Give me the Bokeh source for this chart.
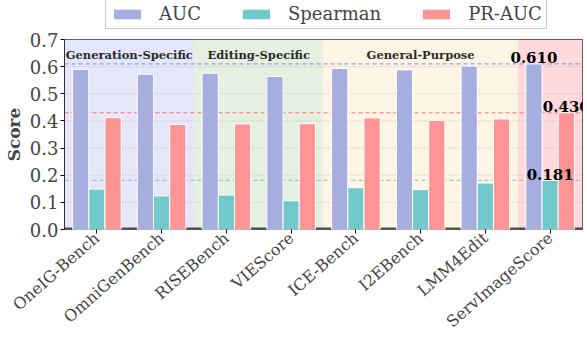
import numpy as np
from bokeh.plotting import figure
from bokeh.layouts import column
from bokeh.models import (ColumnDataSource, Legend, LegendItem,
                          FixedTicker, PrintfTickFormatter)
from bokeh.core.properties import value
from bokeh.embed import file_html
from bokeh.resources import INLINE

# ---------------- data ----------------
benchmarks = ["OneIG-Bench", "OmniGenBench", "RISEBench", "VIEScore",
              "ICE-Bench", "I2EBench", "LMM4Edit", "ServImageScore"]
auc = [0.590, 0.572, 0.576, 0.564, 0.593, 0.588, 0.602, 0.610]
spearman = [0.149, 0.124, 0.127, 0.106, 0.154, 0.147, 0.171, 0.181]
pr_auc = [0.412, 0.387, 0.389, 0.390, 0.411, 0.402, 0.407, 0.430]
series_names = ["AUC", "Spearman", "PR-AUC"]
y_ticks = [0.0, 0.1, 0.2, 0.3, 0.4, 0.5, 0.6, 0.7]

region_names = ["Generation-Specific", "Editing-Specific", "General-Purpose", ""]
region_first = [0, 2, 4, 7]   # index of first benchmark in region
region_last = [1, 3, 6, 7]    # index of last benchmark in region

# ---------------- styles ----------------
SERIF = "DejaVu Serif"
bar_colors = ["#A6AEE0", "#72C9CB", "#FF9494"]
line_colors = ["#7F89DA", "#74C6C8", "#FF7070"]
region_colors = ["#E6E6FA", "#E6F0E1", "#FFF5E4", "#FFD9DC"]

LEG_H = 30
FRAME_H = 190
TOP = 9

n = len(benchmarks)
x = list(range(n))
width = 0.25
offsets = [-width, 0.0, width]
x_lo, x_hi = -0.5, n - 0.5
y_lo, y_hi = y_ticks[0], y_ticks[-1]

p = figure(width=587, frame_height=FRAME_H, x_range=(x_lo, x_hi), y_range=(y_lo, y_hi),
           output_backend="svg", toolbar_location=None,
           min_border_left=62, min_border_right=5, min_border_top=TOP, min_border_bottom=96)
p.background_fill_color = "white"
p.outline_line_color = "#333333"
p.outline_line_width = 1
p.xgrid.visible = False
p.ygrid.visible = False

# background regions
p.quad(left=[a - 0.5 for a in region_first], right=[b + 0.5 for b in region_last],
       bottom=y_lo, top=y_hi, fill_color=region_colors, line_color=None)

# dotted grid
gy = y_ticks[1:-1]
p.segment(x0=[x_lo] * len(gy), x1=[x_hi] * len(gy), y0=gy, y1=gy,
          line_color="#bdbdbd", line_dash="1 2", line_width=1)

# reference lines at best (last) values
best_vals = [auc[-1], spearman[-1], pr_auc[-1]]
p.segment(x0=[x_lo] * 3, x1=[x_hi] * 3, y0=best_vals, y1=best_vals,
          line_color=line_colors, line_dash="4 3", line_width=1)

# baseline stripe (visible between groups)
p.segment(x0=[x_lo], y0=[y_lo], x1=[x_hi], y1=[y_lo],
          line_color="#4d4d4d", line_width=4)

for vals, col, off in zip([auc, spearman, pr_auc], bar_colors, offsets):
    src = ColumnDataSource(dict(x=[xi + off for xi in x], top=vals))
    p.vbar(x="x", top="top", width=width, bottom=0, source=src,
           fill_color=col, line_color="white", line_width=1)

# value labels for the best model
best = n - 1
lab_src = ColumnDataSource(dict(
    x=[best + o for o in offsets],
    y=best_vals,
    t=[f"{v:.3f}" for v in best_vals]))
p.text(x="x", y="y", text="t", source=lab_src, text_font=value(SERIF),
       text_font_style="bold", text_font_size="15px", text_align="center",
       text_baseline="alphabetic", y_offset=-6, text_color="black")

# region titles
names = [r for r in region_names if r]
reg_src = ColumnDataSource(dict(
    x=[(a + b) / 2 for a, b, r in zip(region_first, region_last, region_names) if r],
    y=[y_hi] * len(names),
    t=names))
p.text(x="x", y="y", text="t", source=reg_src, text_font=value(SERIF),
       text_font_style="bold", text_font_size="11.5px", text_align="center",
       text_baseline="alphabetic", y_offset=15, text_color="#2b2b2b")

# axes
p.yaxis.ticker = FixedTicker(ticks=y_ticks)
p.yaxis.formatter = PrintfTickFormatter(format="%.1f")
p.yaxis.axis_label = "Score"
p.yaxis.axis_label_text_font = SERIF
p.yaxis.axis_label_text_font_style = "bold"
p.yaxis.axis_label_text_font_size = "17px"
p.yaxis.axis_label_standoff = 3
p.yaxis.major_label_text_font = SERIF
p.yaxis.major_label_text_font_size = "18px"
p.yaxis.major_label_standoff = 2
p.yaxis.minor_tick_line_color = None
p.yaxis.major_tick_out = 4
p.yaxis.major_tick_in = 0
p.yaxis.axis_line_color = "#333333"

p.xaxis.ticker = FixedTicker(ticks=x)
p.xaxis.major_label_overrides = {i: b for i, b in zip(x, benchmarks)}
p.xaxis.major_label_orientation = 0.72
p.xaxis.major_label_text_font = SERIF
p.xaxis.major_label_text_font_size = "16px"
p.xaxis.major_label_standoff = 2
p.xaxis.minor_tick_line_color = None
p.xaxis.major_tick_out = 4
p.xaxis.major_tick_in = 0
p.xaxis.axis_line_color = None

# ---------------- legend strip (separate small figure on top) ----------------
lf = figure(width=587, height=LEG_H, x_range=(0, 1), y_range=(0, 1),
            output_backend="svg", toolbar_location=None,
            min_border=0, min_border_left=0, min_border_right=0,
            min_border_top=0, min_border_bottom=0)
lf.axis.visible = False
lf.grid.visible = False
lf.outline_line_color = None
leg_renderers = []
for col in bar_colors:
    # zero-height placeholder renderers that carry the legend swatches
    leg_renderers.append(lf.vbar(x=[0.5], top=[0], bottom=0, width=0.01, fill_color=col,
                                 line_color=None))

legend = Legend(items=[LegendItem(label=s, renderers=[r]) for s, r in zip(series_names, leg_renderers)],
                orientation="horizontal", location=(41, 1))
legend.label_text_font = SERIF
legend.label_text_font_size = "18px"
legend.label_height = 18
legend.glyph_width = 34
legend.glyph_height = 12
legend.label_standoff = 15
legend.spacing = 38
legend.padding = 4
legend.margin = 0
legend.border_line_color = "#999999"
legend.background_fill_color = "white"
legend.background_fill_alpha = 1
lf.add_layout(legend, "center")

layout = column(lf, p, spacing=0)
open("out.html", "w").write(file_html(layout, INLINE))
